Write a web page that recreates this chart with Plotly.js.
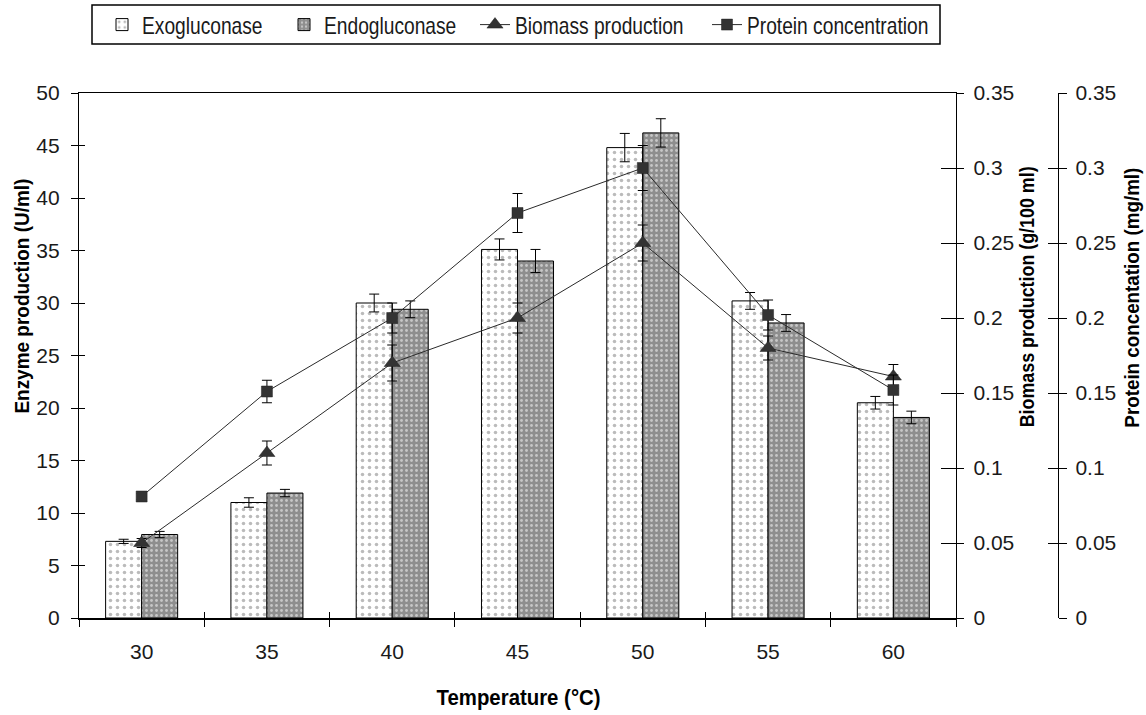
<!DOCTYPE html>
<html>
<head>
<meta charset="utf-8">
<script src="https://cdn.plot.ly/plotly-3.0.1.min.js"></script>
<style>
html,body{margin:0;padding:0;background:#fff;}
#chart{width:1146px;height:715px;}
/* the reference uses a condensed face: narrow the legend glyphs in place */
#chart text.legendtext,#chart text.legend2text,#chart text.legend3text,#chart text.legend4text{
  transform:scaleX(0.8);transform-box:fill-box;transform-origin:left center;}
</style>
</head>
<body>
<div id="chart"></div>
<script>
// ---- data ----
const temperatures = ['30', '35', '40', '45', '50', '55', '60'];
const exoglucanase = [7.3, 11.0, 30.0, 35.1, 44.8, 30.2, 20.5];
const exoglucanaseErr = [0.2, 0.45, 0.85, 1.0, 1.35, 0.8, 0.6];
const endoglucanase = [7.95, 11.9, 29.4, 34.0, 46.2, 28.1, 19.1];
const endoglucanaseErr = [0.3, 0.35, 0.8, 1.1, 1.35, 0.8, 0.6];
const biomass = [0.05, 0.11, 0.17, 0.2, 0.25, 0.18, 0.161];
const biomassErr = [0.003, 0.008, 0.012, 0.01, 0.012, 0.008, 0.008];
const protein = [0.081, 0.151, 0.2, 0.27, 0.3, 0.202, 0.152];
const proteinErr = [0.002, 0.0075, 0.01, 0.013, 0.015, 0.01, 0.01];
const seriesNames = ['Exogluconase', 'Endogluconase', 'Biomass production', 'Protein concentration'];
const axisTitles = ['Enzyme production (U/ml)', 'Biomass production (g/100 ml)', 'Protein concentation (mg/ml)', 'Temperature (°C)'];

// ---- geometry (pixels) ----
const W = 1146, H = 715;
const mL = 79, mR = 86, mT = 93, mB = 97;
const plotW = W - mL - mR, plotH = H - mT - mB;
const xDomEnd = (956 - mL) / plotW;
const px2x = p => (p - mL) / plotW;
const py2y = p => (H - mB - p) / plotH;

const sansF = '"Liberation Sans", Arial, sans-serif';
const ink = '#1a1a1a';

const errStyle = arr => ({type: 'data', array: arr, visible: true, color: '#000', thickness: 1, width: 5});

const traces = [
  {type: 'bar', name: seriesNames[0], legend: 'legend', x: temperatures, y: exoglucanase, xaxis: 'x', yaxis: 'y',
   error_y: errStyle(exoglucanaseErr),
   marker: {color: '#ffffff', line: {color: '#000', width: 1},
            pattern: {shape: '.', bgcolor: '#ffffff', fgcolor: '#777777', size: 7, solidity: 0.2, fillmode: 'overlay'}}},
  {type: 'bar', name: seriesNames[1], legend: 'legend2', x: temperatures, y: endoglucanase, xaxis: 'x', yaxis: 'y',
   error_y: errStyle(endoglucanaseErr),
   marker: {color: '#8e8e8e', line: {color: '#000', width: 1},
            pattern: {shape: '.', bgcolor: '#8e8e8e', fgcolor: '#ffffff', size: 5, solidity: 0.25, fillmode: 'overlay'}}},
  {type: 'scatter', mode: 'lines+markers', name: seriesNames[2], legend: 'legend3', x: temperatures, y: biomass, xaxis: 'x', yaxis: 'y2',
   error_y: errStyle(biomassErr),
   line: {color: '#2a2a2a', width: 1},
   marker: {symbol: 'triangle-up', size: 14, color: '#333', line: {color: '#222', width: 0.5}}},
  {type: 'scatter', mode: 'lines+markers', name: seriesNames[3], legend: 'legend4', x: temperatures, y: protein, xaxis: 'x', yaxis: 'y3',
   error_y: errStyle(proteinErr),
   line: {color: '#2a2a2a', width: 1},
   marker: {symbol: 'square', size: 11, color: '#333', line: {color: '#222', width: 0.5}}},
  // invisible carriers for the inner half of the crossing ticks
  {type: 'scatter', mode: 'none', x: temperatures, y: exoglucanase, xaxis: 'x2', yaxis: 'y4', showlegend: false, hoverinfo: 'skip'},
  {type: 'scatter', mode: 'none', x: temperatures, y: biomass, xaxis: 'x', yaxis: 'y5', showlegend: false, hoverinfo: 'skip'},
  {type: 'scatter', mode: 'none', x: temperatures, y: protein, xaxis: 'x', yaxis: 'y6', showlegend: false, hoverinfo: 'skip'}
];

const tickFont = {family: sansF, size: 21, color: ink};
const innerTicks = (extra) => Object.assign({ticks: 'inside', tickcolor: '#000', tickwidth: 1,
  showticklabels: false, showline: false, showgrid: false, zeroline: false}, extra);
const legendAt = (textStartPx) => ({x: px2x(textStartPx - 41), y: py2y(25), xanchor: 'left', yanchor: 'middle',
  orientation: 'h', borderwidth: 0, bgcolor: 'rgba(0,0,0,0)', font: {family: sansF, size: 24, color: ink}});

const layout = {
  width: W, height: H,
  margin: {l: mL, r: mR, t: mT, b: mB, pad: 0, autoexpand: false},
  paper_bgcolor: '#fff', plot_bgcolor: '#fff',
  showlegend: true,
  barmode: 'group', bargap: 0.425, bargroupgap: 0,
  font: {family: sansF, size: 24, color: ink},
  xaxis: {domain: [0, xDomEnd], type: 'category', showline: true, linecolor: '#000', linewidth: 1.5, mirror: true,
          ticks: 'outside', tickson: 'boundaries', ticklen: 7, tickcolor: '#000', tickwidth: 1,
          ticklabelstandoff: 14, tickfont: tickFont, showgrid: false, zeroline: false},
  xaxis2: innerTicks({domain: [0, xDomEnd], type: 'category', overlaying: 'x', anchor: 'y', matches: 'x',
           tickson: 'boundaries', ticklen: 6}),
  yaxis: {range: [0, 50], dtick: 5, showline: true, linecolor: '#000', linewidth: 1.2,
          ticks: 'outside', ticklen: 7, tickcolor: '#000', tickwidth: 1, ticklabelstandoff: 7,
          tickfont: tickFont, showgrid: false, zeroline: false},
  yaxis4: innerTicks({range: [0, 50], dtick: 5, overlaying: 'y', side: 'left', anchor: 'x', ticklen: 6}),
  yaxis2: {range: [0, 0.35], dtick: 0.05, overlaying: 'y', side: 'right', anchor: 'x',
           showline: true, linecolor: '#000', linewidth: 1.2,
           ticks: 'outside', ticklen: 7, tickcolor: '#000', tickwidth: 1, ticklabelstandoff: 5,
           tickfont: tickFont, showgrid: false, zeroline: false},
  yaxis5: innerTicks({range: [0, 0.35], dtick: 0.05, overlaying: 'y', side: 'right', anchor: 'x', ticklen: 15}),
  yaxis3: {range: [0, 0.35], dtick: 0.05, overlaying: 'y', side: 'right', anchor: 'free', position: px2x(1058),
           showline: true, linecolor: '#000', linewidth: 1.2,
           ticks: 'outside', ticklen: 8, tickcolor: '#000', tickwidth: 1, ticklabelstandoff: 4,
           tickfont: tickFont, showgrid: false, zeroline: false},
  yaxis6: innerTicks({range: [0, 0.35], dtick: 0.05, overlaying: 'y', side: 'right', anchor: 'free', position: px2x(1058), ticklen: 10}),
  legend: legendAt(143),
  legend2: legendAt(325),
  legend3: legendAt(516),
  legend4: legendAt(748),
  shapes: [
    {type: 'rect', xref: 'paper', yref: 'paper', x0: px2x(92), x1: px2x(940), y0: py2y(44), y1: py2y(5),
     line: {color: '#000', width: 1.5}, fillcolor: 'rgba(0,0,0,0)', layer: 'below'}
  ],
  annotations: [
    {text: axisTitles[0], xref: 'paper', yref: 'paper', x: px2x(22), y: py2y(296),
     textangle: -90, showarrow: false, xanchor: 'center', yanchor: 'middle',
     font: {family: sansF, size: 20, color: '#000', weight: 'bold'}},
    {text: axisTitles[1], xref: 'paper', yref: 'paper', x: px2x(1027), y: py2y(297),
     textangle: -90, showarrow: false, xanchor: 'center', yanchor: 'middle',
     font: {family: sansF, size: 20, color: '#000', weight: 'bold'}},
    {text: axisTitles[2], xref: 'paper', yref: 'paper', x: px2x(1132), y: py2y(298),
     textangle: -90, showarrow: false, xanchor: 'center', yanchor: 'middle',
     font: {family: sansF, size: 20, color: '#000', weight: 'bold'}},
    {text: axisTitles[3], xref: 'paper', yref: 'paper', x: px2x(518), y: py2y(697),
     showarrow: false, xanchor: 'center', yanchor: 'middle',
     font: {family: sansF, size: 22, color: '#000', weight: 'bold'}}
  ]
};

const gd = document.getElementById('chart');
function squeezeTo(el, target) {
  el.removeAttribute('textLength');
  el.removeAttribute('lengthAdjust');
  const natural = el.getComputedTextLength();
  if (!(natural > 0)) return;
  el.setAttribute('textLength', Math.min(target, natural).toFixed(2));
  el.setAttribute('lengthAdjust', 'spacingAndGlyphs');
}
const titleLengths = [235, 261, 260, 164];
function condenseTitles() {
  gd.querySelectorAll('text.annotation-text').forEach((t, i) => {
    if (titleLengths[i]) squeezeTo(t, titleLengths[i]);
  });
}
Plotly.newPlot(gd, traces, layout, {displayModeBar: false, staticPlot: true}).then(() => {
  condenseTitles();
  gd.on('plotly_afterplot', condenseTitles);
});
</script>
</body>
</html>
